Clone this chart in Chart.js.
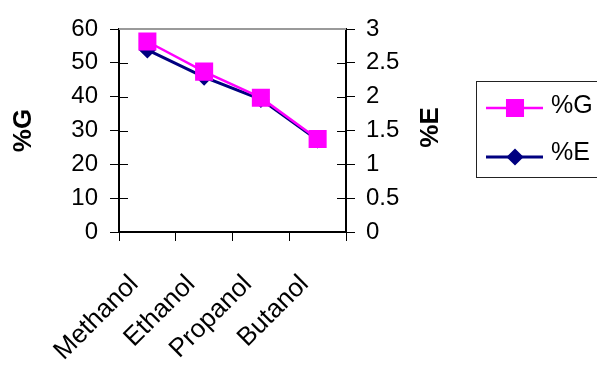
<!DOCTYPE html>
<html>
<head>
<meta charset="utf-8">
<script src="https://cdn.jsdelivr.net/npm/chart.js@4/dist/chart.umd.min.js"></script>
<style>
  html, body { margin: 0; padding: 0; background: #fff; }
  #chart { display: block; }
</style>
</head>
<body>
<canvas id="chart" width="597" height="367"></canvas>
<script>
const categories = ['Methanol', 'Ethanol', 'Propanol', 'Butanol'];
const gValues = [56.3, 47.4, 39.7, 27.5];
const eValues = [2.69, 2.29, 1.96, 1.36];
const gAxis = { min: 0, max: 60, step: 10 };
const eAxis = { min: 0, max: 3, step: 0.5 };

const FONT = 'Liberation Sans, Arial, sans-serif';
const MAGENTA = '#ff00ff';
const NAVY = '#000080';

// inner half of the tick marks, the grey top edge, the %E title and the boxed legend
const extras = {
  id: 'extras',
  afterDraw(chart) {
    const { ctx, chartArea } = chart;
    const yG = chart.scales.yG;
    const yE = chart.scales.yE;
    ctx.save();
    ctx.strokeStyle = '#000';
    ctx.lineWidth = 1;
    ctx.beginPath();
    yG.ticks.forEach((t) => {
      const y = Math.round(yG.getPixelForValue(t.value)) + 0.5;
      ctx.moveTo(chartArea.left, y);
      ctx.lineTo(chartArea.left + 9, y);
    });
    yE.ticks.forEach((t) => {
      const y = Math.round(yE.getPixelForValue(t.value)) + 0.5;
      ctx.moveTo(chartArea.right - 9, y);
      ctx.lineTo(chartArea.right, y);
    });
    ctx.stroke();

    ctx.strokeStyle = '#9a9a9a';
    ctx.lineWidth = 2;
    ctx.beginPath();
    ctx.moveTo(chartArea.left, chartArea.top);
    ctx.lineTo(chartArea.right, chartArea.top);
    ctx.stroke();

    // right axis title, reading bottom to top
    ctx.fillStyle = '#000';
    ctx.font = `bold 26px ${FONT}`;
    ctx.textAlign = 'center';
    ctx.textBaseline = 'middle';
    ctx.translate(431, (chartArea.top + chartArea.bottom) / 2 - 3);
    ctx.rotate(-Math.PI / 2);
    ctx.fillText('%E', 0, 0);
    ctx.setTransform(1, 0, 0, 1, 0, 0);

    // legend
    ctx.strokeStyle = '#222';
    ctx.lineWidth = 1;
    ctx.strokeRect(476.5, 81.5, 140, 96);
    const items = chart.data.datasets.map((ds, i) => ({ ds, y: i === 0 ? 108 : 157, ty: i === 0 ? 106 : 153 }));
    items.forEach(({ ds, y, ty }) => {
      ctx.strokeStyle = ds.borderColor;
      ctx.lineWidth = ds.borderWidth;
      ctx.beginPath();
      ctx.moveTo(486, y);
      ctx.lineTo(543, y);
      ctx.stroke();
      ctx.fillStyle = ds.pointBackgroundColor;
      ctx.strokeStyle = ds.pointBorderColor;
      Chart.helpers.drawPoint(ctx, {
        pointStyle: ds.pointStyle,
        radius: ds.pointRadius,
        borderWidth: 1,
        rotation: 0,
      }, 515, y);
      ctx.fillStyle = '#000';
      ctx.font = `25px ${FONT}`;
      ctx.textAlign = 'left';
      ctx.textBaseline = 'middle';
      ctx.fillText(ds.label, 551, ty);
    });
    ctx.restore();
  },
};

new Chart(document.getElementById('chart'), {
  type: 'line',
  data: {
    labels: categories,
    datasets: [
      {
        label: '%G',
        data: gValues,
        yAxisID: 'yG',
        borderColor: MAGENTA,
        borderWidth: 2.5,
        pointStyle: 'rect',
        pointRadius: 11,
        pointBackgroundColor: MAGENTA,
        pointBorderColor: MAGENTA,
        tension: 0,
      },
      {
        label: '%E',
        data: eValues,
        yAxisID: 'yE',
        borderColor: NAVY,
        borderWidth: 3,
        pointStyle: 'rectRot',
        pointRadius: 6.5,
        pointBackgroundColor: NAVY,
        pointBorderColor: NAVY,
        tension: 0,
      },
    ],
  },
  plugins: [extras],
  options: {
    responsive: false,
    animation: false,
    layout: {
      padding: { top: 29, right: 0, bottom: 0, left: 0 },
    },
    plugins: {
      legend: { display: false },
      tooltip: { enabled: false },
    },
    scales: {
      x: {
        offset: true,
        afterFit(scale) { scale.height = 135; },
        grid: {
          display: true,
          drawOnChartArea: false,
          offset: true,
          tickLength: 9,
          tickColor: '#000',
        },
        border: { color: '#000', width: 2 },
        ticks: {
          color: '#000',
          minRotation: 45,
          maxRotation: 45,
          padding: 28,
          labelOffset: -13,
          font: { family: FONT, size: 26 },
        },
      },
      yG: {
        position: 'left',
        min: gAxis.min,
        max: gAxis.max,
        afterFit(scale) { scale.width = 119; },
        grid: {
          drawOnChartArea: false,
          tickLength: 9,
          tickColor: '#000',
        },
        border: { color: '#000', width: 2 },
        ticks: {
          stepSize: gAxis.step,
          color: '#000',
          padding: 12,
          font: { family: FONT, size: 24 },
        },
        title: {
          display: true,
          text: '%G',
          color: '#000',
          padding: { top: 8, bottom: 0 },
          font: { family: FONT, size: 26, weight: 'bold' },
        },
      },
      yE: {
        position: 'right',
        min: eAxis.min,
        max: eAxis.max,
        afterFit(scale) { scale.width = 251; },
        grid: {
          drawOnChartArea: false,
          tickLength: 9,
          tickColor: '#000',
        },
        border: { color: '#000', width: 2 },
        ticks: {
          stepSize: eAxis.step,
          color: '#000',
          padding: 11,
          font: { family: FONT, size: 24 },
          callback(value) { return String(value); },
        },
      },
    },
  },
});
</script>
</body>
</html>
